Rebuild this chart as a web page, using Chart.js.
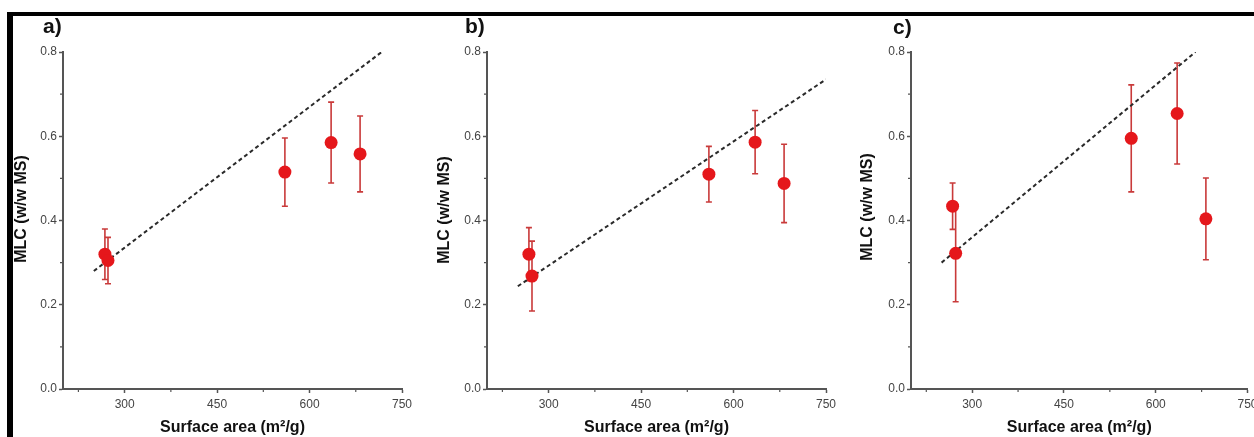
<!DOCTYPE html>
<html>
<head>
<meta charset="utf-8">
<script src="https://cdn.jsdelivr.net/npm/chart.js@4/dist/chart.umd.min.js"></script>
<style>
  body { margin: 0; width: 1254px; height: 437px; background: #fff; position: relative; overflow: hidden; }
  .frame-top { position: absolute; left: 7px; top: 12px; width: 1247px; height: 4px; background: #000; }
  .frame-left { position: absolute; left: 7px; top: 12px; width: 6px; height: 425px; background: #000; }
  canvas { position: absolute; top: 16px; }
</style>
</head>
<body>
<div class="frame-top"></div>
<div class="frame-left"></div>
<canvas id="chartA" width="405" height="421" style="left:13px"></canvas>
<canvas id="chartB" width="418" height="421" style="left:418px"></canvas>
<canvas id="chartC" width="418" height="421" style="left:836px"></canvas>
<script>
/* ---- axis ticks ---- */
const xTicks = [300, 450, 600, 750];
const xMinor = [225, 375, 525, 675];
const yTicks = [0, 0.2, 0.4, 0.6, 0.8];
const yMinor = [0.1, 0.3, 0.5, 0.7];

/* ---- data (same sorbents in every panel) ---- */
const surfaceArea = [268, 273, 560, 635, 682];

const mlcA = [0.320, 0.305, 0.515, 0.585, 0.558];
const errA = [0.060, 0.055, 0.081, 0.096, 0.090];
const fitXA = [250, 717];
const fitYA = [0.280, 0.800];

const mlcB = [0.320, 0.268, 0.510, 0.586, 0.488];
const errB = [0.063, 0.083, 0.066, 0.075, 0.093];
const fitXB = [250, 750];
const fitYB = [0.244, 0.735];

const mlcC = [0.434, 0.322, 0.595, 0.654, 0.404];
const errC = [0.055, 0.115, 0.127, 0.120, 0.097];
const fitXC = [250, 665];
const fitYC = [0.300, 0.800];

Chart.defaults.font.family = "'Liberation Sans', Arial, sans-serif";

const AXIS_COLOR = "#555";
const TICK_COLOR = "#444";

/* error bars, minor ticks, y title, panel letter */
const extrasPlugin = {
  id: "extras",
  beforeDatasetsDraw(chart, args, opts) {
    const ds = chart.data.datasets[0];
    const xs = chart.scales.x, ys = chart.scales.y;
    const ctx = chart.ctx;
    ctx.save();
    ctx.strokeStyle = "#c93a3a";
    ctx.lineWidth = 1.6;
    ds.data.forEach((p, i) => {
      const px = xs.getPixelForValue(p.x);
      const top = ys.getPixelForValue(p.y + ds.errors[i]);
      const bot = ys.getPixelForValue(p.y - ds.errors[i]);
      ctx.beginPath();
      ctx.moveTo(px, top); ctx.lineTo(px, bot);
      ctx.moveTo(px - 3, top); ctx.lineTo(px + 3, top);
      ctx.moveTo(px - 3, bot); ctx.lineTo(px + 3, bot);
      ctx.stroke();
    });
    ctx.restore();
  },
  afterDraw(chart, args, opts) {
    const ctx = chart.ctx;
    const xs = chart.scales.x, ys = chart.scales.y;
    const area = chart.chartArea;
    ctx.save();
    // minor ticks
    ctx.strokeStyle = AXIS_COLOR;
    ctx.lineWidth = 1.2;
    ctx.beginPath();
    xMinor.forEach(v => {
      const px = xs.getPixelForValue(v);
      ctx.moveTo(px, area.bottom + 1); ctx.lineTo(px, area.bottom + 3);
    });
    yMinor.forEach(v => {
      const py = ys.getPixelForValue(v);
      ctx.moveTo(area.left - 1, py); ctx.lineTo(area.left - 3, py);
    });
    ctx.stroke();

    // y axis title
    ctx.fillStyle = "#111";
    ctx.font = "bold 16px 'Liberation Sans', Arial, sans-serif";
    ctx.textAlign = "center";
    ctx.textBaseline = "middle";
    ctx.translate(opts.titleX, opts.titleY);
    ctx.rotate(-Math.PI / 2);
    ctx.fillText("MLC (w/w MS)", 0, 0);
    ctx.setTransform(1, 0, 0, 1, 0, 0);

    // panel letter
    ctx.font = "bold 21px 'Liberation Sans', Arial, sans-serif";
    ctx.textAlign = "left";
    ctx.textBaseline = "alphabetic";
    ctx.fillText(opts.label, opts.labelX, opts.labelY);
    ctx.restore();
  }
};

function buildPanel(id, mlc, err, fitX, fitY, box) {
  const points = surfaceArea.map((x, i) => ({ x: x, y: mlc[i] }));
  const fit = fitX.map((x, i) => ({ x: x, y: fitY[i] }));

  return new Chart(document.getElementById(id), {
    type: "scatter",
    data: {
      datasets: [
        {
          data: points,
          errors: err,
          pointRadius: 6.5,
          pointHoverRadius: 6.5,
          backgroundColor: "#e5171b",
          borderColor: "#e5171b",
          borderWidth: 0
        },
        {
          data: fit,
          showLine: true,
          borderColor: "#2a2a2a",
          borderWidth: 2,
          borderDash: [4, 3],
          pointRadius: 0
        }
      ]
    },
    options: {
      responsive: false,
      animation: false,
      layout: { padding: { left: 0, top: 36, right: box.right, bottom: 0 } },
      plugins: {
        legend: { display: false },
        tooltip: { enabled: false },
        extras: box.text
      },
      scales: {
        x: {
          type: "linear",
          min: 200,
          max: 750,
          afterBuildTicks: s => { s.ticks = xTicks.map(v => ({ value: v })); },
          afterFit: s => { s.height = 48; s.paddingLeft = 0; s.paddingRight = 0; },
          ticks: { color: TICK_COLOR, font: { size: 12 }, padding: 4, maxRotation: 0, autoSkip: false },
          grid: { drawOnChartArea: false, tickLength: 4, tickWidth: 1.5, tickColor: AXIS_COLOR },
          border: { color: AXIS_COLOR, width: 2 },
          title: {
            display: true,
            text: "Surface area (m²/g)",
            color: "#111",
            font: { size: 16, weight: "bold" },
            padding: { top: 0, bottom: 0 }
          }
        },
        y: {
          min: 0,
          max: 0.8,
          afterBuildTicks: s => { s.ticks = yTicks.map(v => ({ value: v })); },
          afterFit: s => { s.width = box.left; s.paddingTop = 0; s.paddingBottom = 0; },
          ticks: { color: TICK_COLOR, font: { size: 12 }, padding: 2, callback: v => v.toFixed(1) },
          grid: { drawOnChartArea: false, tickLength: 4, tickWidth: 1.5, tickColor: AXIS_COLOR },
          border: { color: AXIS_COLOR, width: 2 }
        }
      }
    },
    plugins: [extrasPlugin]
  });
}

buildPanel("chartA", mlcA, errA, fitXA, fitYA, {
  left: 50, right: 16,
  text: { label: "a)", labelX: 30, labelY: 17, titleX: 9, titleY: 193 }
});
buildPanel("chartB", mlcB, errB, fitXB, fitYB, {
  left: 69, right: 10,
  text: { label: "b)", labelX: 47, labelY: 17, titleX: 27, titleY: 194 }
});
buildPanel("chartC", mlcC, errC, fitXC, fitYC, {
  left: 75, right: 3,
  text: { label: "c)", labelX: 57, labelY: 18, titleX: 32, titleY: 191 }
});
</script>
</body>
</html>
